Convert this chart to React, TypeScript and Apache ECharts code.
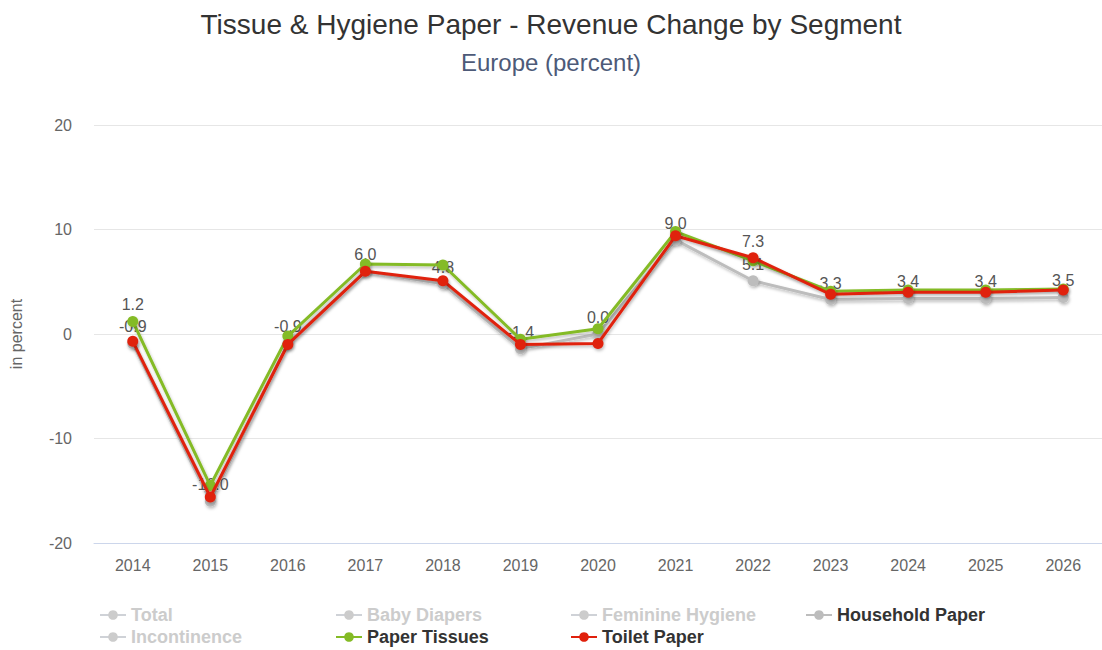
import React, { useEffect, useRef } from "react";
import * as echarts from "echarts";

const years = ["2014", "2015", "2016", "2017", "2018", "2019", "2020", "2021", "2022", "2023", "2024", "2025", "2026"];
const householdPaper = [-0.9, -16.0, -0.9, 6.0, 4.8, -1.4, 0.0, 9.0, 5.1, 3.3, 3.4, 3.4, 3.5];
const paperTissues = [1.2, -14.5, -0.2, 6.7, 6.6, -0.5, 0.5, 9.8, 7.0, 4.1, 4.2, 4.2, 4.3];
const toiletPaper = [-0.7, -15.6, -1.0, 6.0, 5.1, -1.0, -0.9, 9.4, 7.3, 3.8, 4.0, 4.0, 4.2];
const hiddenSeries = ["Total", "Baby Diapers", "Feminine Hygiene", "Incontinence"];
const yTicks = [-20, -10, 0, 10, 20];

const GRAY = "#bdbdbd";
const GREEN = "#84bb25";
const RED = "#e0200c";
const FONT = "Liberation Sans, Arial, sans-serif";

export default function App() {
  const ref = useRef<HTMLDivElement>(null);
  useEffect(() => {
    document.body.style.margin = "0";
    const chart = echarts.init(ref.current!, undefined, { renderer: "svg" });
    const shadow = { shadowColor: "rgba(0,0,0,0.25)", shadowBlur: 3, shadowOffsetX: 1, shadowOffsetY: 2 };
    const labelStyle = {
      show: true,
      position: "top" as const,
      distance: 3,
      color: "#555",
      fontSize: 16,
      fontFamily: FONT,
      textBorderColor: "#fff",
      textBorderWidth: 1,
      formatter: (p: any) => Number(p.value).toFixed(1),
    };
    const mkSeries = (name: string, color: string, data: any[], z: number) => ({
      name,
      type: "line",
      data,
      z,
      symbol: "circle",
      symbolSize: 11,
      color,
      lineStyle: { width: 3, color, ...shadow },
      itemStyle: { color, ...shadow },
      label: { show: false },
    });
    const selected: Record<string, boolean> = {};
    hiddenSeries.forEach((n) => (selected[n] = false));
    const legendItem = (name: string, left: number, top: number) => ({
      left,
      top,
      itemWidth: 26,
      itemHeight: 12,
      padding: 0,
      selected,
      inactiveColor: "#cccccc",
      data: [name],
      textStyle: { color: "#333", fontSize: 18, fontWeight: "bold" as const, fontFamily: FONT },
    });
    const option: any = {
      animation: false,
      title: [
        {
          text: "Tissue & Hygiene Paper - Revenue Change by Segment",
          left: "center",
          top: 5,
          textStyle: { fontSize: 28, fontWeight: "normal", color: "#333", fontFamily: FONT },
        },
        {
          text: "Europe (percent)",
          left: "center",
          top: 45,
          textStyle: { fontSize: 24, fontWeight: "normal", color: "#4d5a78", fontFamily: FONT },
        },
      ],
      legend: [
        legendItem("Total", 99, 606),
        legendItem("Incontinence", 99, 628),
        legendItem("Baby Diapers", 335, 606),
        legendItem("Paper Tissues", 335, 628),
        legendItem("Feminine Hygiene", 570, 606),
        legendItem("Toilet Paper", 570, 628),
        legendItem("Household Paper", 805, 606),
      ],
      grid: { left: 92, right: 0, top: 125, bottom: 107, containLabel: false },
      xAxis: {
        type: "category",
        data: years,
        boundaryGap: true,
        axisLine: { show: true, onZero: false, lineStyle: { color: "#ccd6eb", width: 1 } },
        axisTick: { show: false },
        axisLabel: { color: "#666", fontSize: 16, margin: 14, fontFamily: FONT },
      },
      yAxis: {
        type: "value",
        min: yTicks[0],
        max: yTicks[yTicks.length - 1],
        interval: 10,
        name: "in percent",
        nameLocation: "middle",
        nameGap: 70,
        nameRotate: 90,
        nameTextStyle: { color: "#666", fontSize: 16, fontFamily: FONT },
        axisLine: { show: false },
        axisTick: { show: false },
        splitLine: { lineStyle: { color: "#e6e6e6", width: 1 } },
        axisLabel: { color: "#666", fontSize: 16, margin: 22, fontFamily: FONT },
      },
      series: [
        mkSeries("Total", "#cccccc", [], 1),
        mkSeries("Baby Diapers", "#cccccc", [], 1),
        mkSeries("Feminine Hygiene", "#cccccc", [], 1),
        { ...mkSeries("Household Paper", GRAY, householdPaper, 2), label: labelStyle },
        mkSeries("Incontinence", "#cccccc", [], 1),
        mkSeries("Paper Tissues", GREEN, paperTissues.map((v, i) => (i === 0 ? { value: v, label: labelStyle } : v)), 3),
        mkSeries("Toilet Paper", RED, toiletPaper.map((v, i) => (i === 8 ? { value: v, label: labelStyle } : v)), 4),
      ],
    };
    chart.setOption(option);
    return () => chart.dispose();
  }, []);
  return <div ref={ref} style={{ width: 1102, height: 650 }} />;
}
